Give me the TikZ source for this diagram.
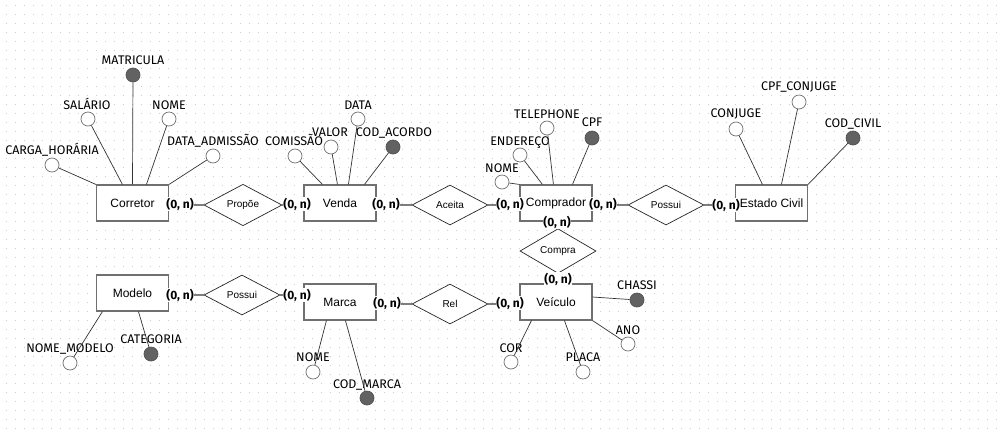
\documentclass[tikz,border=0pt]{standalone}
\usepackage{fontspec}
\setmainfont{Liberation Sans}
\newfontfamily\fira{Fira Sans}
\usetikzlibrary{shapes.geometric,calc}

\definecolor{boxline}{RGB}{112,112,112}
\definecolor{keyfill}{RGB}{98,98,98}
\definecolor{gridcol}{RGB}{205,205,205}
\definecolor{linkcol}{RGB}{125,125,125}

\begin{document}
\begin{tikzpicture}[x=1pt,y=-1pt,
  entity/.style={draw=boxline, line width=1.1pt, fill=white, minimum width=72pt,
    minimum height=36pt, inner sep=0pt, font=\fontsize{12}{14}\selectfont},
  relation/.style={diamond, draw=black!85, line width=0.7pt, fill=white,
    minimum width=76pt, minimum height=40pt, inner sep=0pt, font=\fontsize{10}{12}\selectfont},
  attr/.style={circle, draw=boxline, line width=0.7pt, fill=white, minimum size=14pt, inner sep=0pt},
  keyattr/.style={attr, fill=keyfill, draw=keyfill!85!black},
  attrtext/.style={font=\fira\fontsize{12.5}{14}\selectfont, inner sep=0.5pt,
    text height=8.5pt, text depth=2pt},
  card/.style={font=\fira\bfseries\fontsize{12}{14}\selectfont, fill=white, inner sep=0.8pt},
  link/.style={draw=linkcol, line width=1.6pt},
  attrlink/.style={draw=black!80, line width=0.7pt}
]
\useasboundingbox (0,0) rectangle (1002,432);
\fill[white] (0,0) rectangle (1002,432);

% dotted background grid
\foreach \r in {0,...,47}
  \draw[gridcol, line width=1pt, dash pattern=on 1pt off 8pt] (5.8,{5.3+9*\r}) -- (1002,{5.3+9*\r});

% entities
\node[entity] (corretor)  at (132.5,203) {Corretor};
\node[entity] (venda)     at (340,203)   {Venda};
\node[entity] (comprador) at (556,203)   {Comprador};
\node[entity] (estado)    at (771.5,203) {Estado Civil};
\node[entity] (modelo)    at (132.5,293) {Modelo};
\node[entity] (marca)     at (340,302)   {Marca};
\node[entity] (veiculo)   at (556,302)   {Veículo};

% relationships
\node[relation, minimum width=78pt] (propoe) at (243,205) {Propõe};
\node[relation] (aceita)  at (450,205) {Aceita};
\node[relation] (possuiR) at (666,205) {Possui};
\node[relation, minimum height=38pt] (compra) at (558,251) {Compra};
\node[relation] (possuiL) at (242,295) {Possui};
\node[relation] (rel)     at (450,304) {Rel};

% entity -- relationship connectors
\draw[link] (propoe.west) -- (propoe.west -| corretor.east);
\draw[link] (propoe.east) -- (propoe.east -| venda.west);
\draw[link] (aceita.west) -- (aceita.west -| venda.east);
\draw[link] (aceita.east) -- (aceita.east -| comprador.west);
\draw[link] (possuiR.west) -- (possuiR.west -| comprador.east);
\draw[link] (possuiR.east) -- (possuiR.east -| estado.west);
\draw[link] (compra.north) -- (compra.north |- comprador.south);
\draw[link] (compra.south) -- (compra.south |- veiculo.north);
\draw[link] (possuiL.west) -- (possuiL.west -| modelo.east);
\draw[link] (possuiL.east) -- (possuiL.east -| marca.west);
\draw[link] (rel.west) -- (rel.west -| marca.east);
\draw[link] (rel.east) -- (rel.east -| veiculo.west);

% attributes of Corretor
\node[keyattr] (matricula) at (133,75) {};
\node[attr] (salario) at (88,119) {};
\node[attr] (nomecor) at (169,119) {};
\node[attr] (carga) at (52,165) {};
\node[attr] (dataadm) at (213,156) {};
\node[attrtext] (matriculaT) at (133,61) {MATRICULA};
\node[attrtext] (salarioT) at (87,106) {SALÁRIO};
\node[attrtext] (nomecorT) at (169,106) {NOME};
\node[attrtext] (cargaT) at (52,151) {CARGA\_HORÁRIA};
\node[attrtext] (dataadmT) at (213,142) {DATA\_ADMISSÃO};
\draw[attrlink] (matricula) -- (corretor.north);
\draw[attrlink] (salario) -- ($(corretor.north west)+(26.5,0)$);
\draw[attrlink] (nomecor) -- ($(corretor.north west)+(50.5,0)$);
\draw[attrlink] (carga) -- (corretor.north west);
\draw[attrlink] (dataadm) -- (corretor.north east);

% attributes of Venda
\node[attr] (comissao) at (295,156) {};
\node[attr] (valor) at (331,147) {};
\node[attr] (data) at (358,119) {};
\node[keyattr] (codacordo) at (393,147) {};
\node[attrtext] (comissaoT) at (294,142) {COMISSÃO};
\node[attrtext] (valorT) at (330,133) {VALOR};
\node[attrtext] (dataT) at (358,106) {DATA};
\node[attrtext] (codacordoT) at (394,133) {COD\_ACORDO};
\draw[attrlink] (comissao) -- ($(venda.north west)+(19,0)$);
\draw[attrlink] (valor) -- ($(venda.north west)+(34,0)$);
\draw[attrlink] (data) -- ($(venda.north west)+(45,0)$);
\draw[attrlink] (codacordo) -- ($(venda.north west)+(61,0)$);

% attributes of Comprador
\node[attr] (telephone) at (547,128) {};
\node[keyattr] (cpf) at (592,138) {};
\node[attr] (endereco) at (520,155) {};
\node[attr] (nomecomp) at (502,182) {};
\node[attrtext] (telephoneT) at (547,115) {TELEPHONE};
\node[attrtext] (cpfT) at (592,123) {CPF};
\node[attrtext] (enderecoT) at (520,142) {ENDEREÇO};
\node[attrtext] (nomecompT) at (502,169) {NOME};
\draw[attrlink] (telephone) -- ($(comprador.north west)+(34,0)$);
\draw[attrlink] (cpf) -- ($(comprador.north west)+(53,0)$);
\draw[attrlink] (endereco) -- ($(comprador.north west)+(23,0)$);
\draw[attrlink] (nomecomp) -- (comprador.north west);

% attributes of Estado Civil
\node[attr] (conjuge) at (736,129) {};
\node[attr] (cpfconj) at (799,102) {};
\node[keyattr] (codcivil) at (853,138) {};
\node[attrtext] (conjugeT) at (736,114) {CONJUGE};
\node[attrtext] (cpfconjT) at (799,87) {CPF\_CONJUGE};
\node[attrtext] (codcivilT) at (853,124) {COD\_CIVIL};
\draw[attrlink] (conjuge) -- ($(estado.north west)+(27.5,0)$);
\draw[attrlink] (cpfconj) -- ($(estado.north west)+(46.5,0)$);
\draw[attrlink] (codcivil) -- (estado.north east);

% attributes of Modelo
\node[attr] (nomemodelo) at (70,363) {};
\node[keyattr] (categoria) at (151,354) {};
\node[attrtext] (nomemodeloT) at (70,349) {NOME\_MODELO};
\node[attrtext] (categoriaT) at (151,340) {CATEGORIA};
\draw[attrlink] (nomemodelo) -- ($(modelo.south west)+(6.5,0)$);
\draw[attrlink] (categoria) -- ($(modelo.south west)+(42.5,0)$);

% attributes of Marca
\node[attr] (nomemarca) at (313,372) {};
\node[keyattr] (codmarca) at (367,398) {};
\node[attrtext] (nomemarcaT) at (313,358) {NOME};
\node[attrtext] (codmarcaT) at (367,385) {COD\_MARCA};
\draw[attrlink] (nomemarca) -- ($(marca.south west)+(23,0)$);
\draw[attrlink] (codmarca) -- ($(marca.south west)+(42,0)$);

% attributes of Veiculo
\node[keyattr] (chassi) at (637,300) {};
\node[attr] (ano) at (628,344) {};
\node[attr] (cor) at (511,362) {};
\node[attr] (placa) at (583,372) {};
\node[attrtext] (chassiT) at (637,286) {CHASSI};
\node[attrtext] (anoT) at (628,331) {ANO};
\node[attrtext] (corT) at (511,349) {COR};
\node[attrtext] (placaT) at (583,358) {PLACA};
\draw[attrlink] (chassi) -- ($(veiculo.east)+(0,-5)$);
\draw[attrlink] (ano) -- (veiculo.south east);
\draw[attrlink] (cor) -- ($(veiculo.south west)+(12,0)$);
\draw[attrlink] (placa) -- ($(veiculo.south west)+(45,0)$);

% cardinalities
\node[card] (k1)  at (180,204) {(0, n)};
\node[card] (k2)  at (297,204) {(0, n)};
\node[card] (k3)  at (386,204) {(0, n)};
\node[card] (k4)  at (510,204) {(0, n)};
\node[card] (k5)  at (603,204) {(0, n)};
\node[card] (k6)  at (726,205) {(0, n)};
\node[card] (k7)  at (557,222) {(0, n)};
\node[card] (k8)  at (558,279) {(0, n)};
\node[card] (k9)  at (180,295) {(0, n)};
\node[card] (k10) at (297,295) {(0, n)};
\node[card] (k11) at (387,303) {(0, n)};
\node[card] (k12) at (510,303) {(0, n)};
\end{tikzpicture}
\end{document}
